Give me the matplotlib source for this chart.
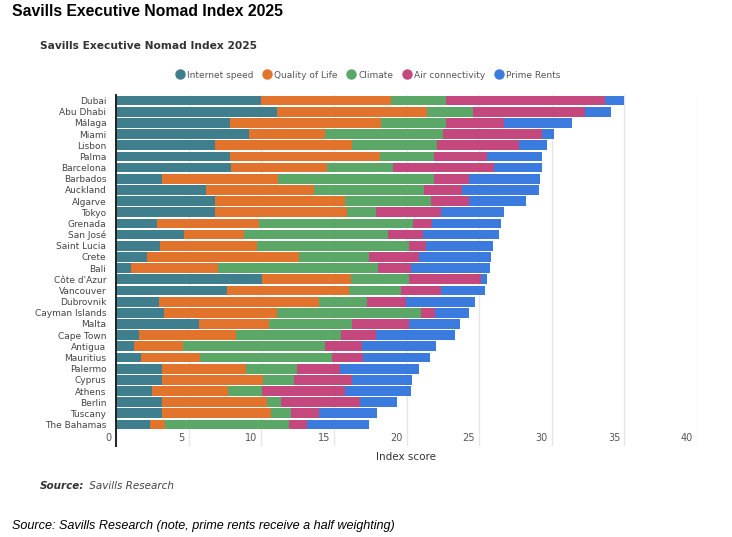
import numpy as np
import matplotlib
matplotlib.use("Agg")
import matplotlib.pyplot as plt
from matplotlib.transforms import ScaledTranslation
from matplotlib.lines import Line2D

countries = ["Dubai", "Abu Dhabi", "Málaga", "Miami", "Lisbon", "Palma", "Barcelona",
             "Barbados", "Auckland", "Algarve", "Tokyo", "Grenada", "San José",
             "Saint Lucia", "Crete", "Bali", "Côte d'Azur", "Vancouver", "Dubrovnik",
             "Cayman Islands", "Malta", "Cape Town", "Antigua", "Mauritius", "Palermo",
             "Cyprus", "Athens", "Berlin", "Tuscany", "The Bahamas"]

internet_speed = [9.96, 11.06, 7.88, 9.16, 6.85, 7.88, 7.92, 3.16, 6.20, 6.85, 6.82, 2.82,
                  4.65, 3.00, 2.15, 1.05, 10.05, 7.63, 2.98, 3.30, 5.73, 1.60, 1.24, 1.69,
                  3.16, 3.16, 2.49, 3.16, 3.16, 2.36]
quality_of_life = [8.94, 10.35, 10.35, 5.20, 9.41, 10.29, 6.60, 7.97, 7.43, 8.91, 9.05, 7.03,
                   4.19, 6.73, 10.47, 5.96, 6.12, 8.43, 11.01, 7.81, 4.83, 6.67, 3.34, 4.10,
                   5.77, 6.98, 5.25, 7.22, 7.49, 0.98]
climate = [3.80, 3.20, 4.47, 8.14, 5.82, 3.75, 4.54, 10.75, 7.56, 5.91, 2.04, 10.63,
           9.91, 10.41, 4.81, 11.02, 3.97, 3.53, 3.30, 9.87, 5.66, 7.22, 9.83, 9.08,
           3.53, 2.09, 2.29, 1.00, 1.40, 8.59]
air_connectivity = [11.00, 7.70, 4.00, 6.80, 5.66, 3.62, 6.94, 2.42, 2.61, 2.63, 4.47, 1.28,
                    2.37, 1.21, 3.46, 2.27, 4.99, 2.81, 2.68, 0.99, 3.92, 2.40, 2.54, 2.15,
                    2.98, 4.01, 5.73, 5.39, 1.94, 1.22]
prime_rents = [1.30, 1.80, 4.70, 0.85, 1.90, 3.80, 3.32, 4.90, 5.29, 3.92, 4.35, 4.74,
               5.22, 4.58, 4.95, 5.43, 0.44, 2.98, 4.74, 2.33, 3.57, 5.43, 5.06, 4.58,
               5.45, 4.15, 4.54, 2.59, 3.97, 4.28]

series_names = ["Internet speed", "Quality of Life", "Climate", "Air connectivity", "Prime Rents"]
series_colors = ["#3F7F8D", "#E1732C", "#5BA768", "#C4487E", "#3A7BDD"]
x_ticks = [0, 5, 10, 15, 20, 25, 30, 35, 40]

W, H = 732, 537
fig = plt.figure(figsize=(W / 100, H / 100), dpi=100)
fig.patch.set_facecolor("white")

ax_left, ax_right = 116 / W, 697 / W
ax_top, ax_bottom = 1 - 95 / H, 1 - 446 / H
ax = fig.add_axes([ax_left, ax_bottom, ax_right - ax_left, ax_top - ax_bottom])

y = np.arange(len(countries))
left = np.zeros(len(countries))
for vals, name, col in zip([internet_speed, quality_of_life, climate, air_connectivity, prime_rents],
                           series_names, series_colors):
    vals = np.array(vals)
    ax.barh(y, vals, left=left, height=0.87, color=col, label=name, zorder=3)
    left = left + vals

row_px = 11.17
n_extra = (446 - 95) / row_px - len(countries)
ax.set_ylim(len(countries) - 0.5 + n_extra, -0.5)
ax.set_xlim(0, 40)

ax.set_yticks(y)
ax.set_yticklabels(countries, fontsize=6.5, color="#444444", family="DejaVu Sans")
ax.tick_params(axis="y", length=0, pad=7)
ax.set_xticks(x_ticks)
ax.set_xticklabels([])
ax.tick_params(axis="x", length=0)
ax.grid(axis="x", color="#E6E6E6", linewidth=1, zorder=0)
ax.grid(axis="y", visible=False)
for s in ["top", "right", "bottom"]:
    ax.spines[s].set_visible(False)
ax.spines["left"].set_color("#222222")
ax.spines["left"].set_linewidth(1.4)
ax.spines["left"].set_zorder(5)

off = ScaledTranslation(-4 / 100, 0, fig.dpi_scale_trans)
for t in x_ticks:
    ax.text(t, 0.008, str(t), transform=ax.get_xaxis_transform() + off,
            ha="right", va="bottom", fontsize=7, color="#555555", family="DejaVu Sans")

fig.text(406 / W, 1 - 457 / H, "Index score", ha="center", va="center",
         fontsize=7.5, color="#333333", family="DejaVu Sans")

fig.text(12 / W, 1 - 12 / H, "Savills Executive Nomad Index 2025", ha="left", va="center",
         fontsize=11.3, fontweight="bold", family="Liberation Sans", color="black")
fig.text(40 / W, 1 - 46 / H, "Savills Executive Nomad Index 2025", ha="left", va="center",
         fontsize=7.7, fontweight="bold", family="DejaVu Sans", color="#333333")

handles = [Line2D([0], [0], marker="o", linestyle="", markersize=6.5,
                  markerfacecolor=c, markeredgecolor=c) for c in series_colors]
fig.legend(handles, series_names, loc="center", bbox_to_anchor=(368 / W, 1 - 75 / H),
           ncol=5, frameon=False, handletextpad=0.3, columnspacing=1.0,
           handlelength=1.0, prop={"family": "DejaVu Sans", "size": 6.5},
           labelcolor="#555555")

t1 = fig.text(40 / W, 1 - 486 / H, "Source:", ha="left", va="center", fontsize=7.5,
              fontweight="bold", style="italic", family="DejaVu Sans", color="#333333")
fig.canvas.draw()
bb = t1.get_window_extent()
fig.text((bb.x1 + 2) / W, 1 - 486 / H, " Savills Research", ha="left", va="center",
         fontsize=7.5, style="italic", family="DejaVu Sans", color="#444444")

fig.text(12 / W, 1 - 526 / H, "Source: Savills Research (note, prime rents receive a half weighting)",
         ha="left", va="center", fontsize=9.1, style="italic", family="Liberation Sans", color="black")

fig.savefig("out.png", dpi=100, facecolor="white")
